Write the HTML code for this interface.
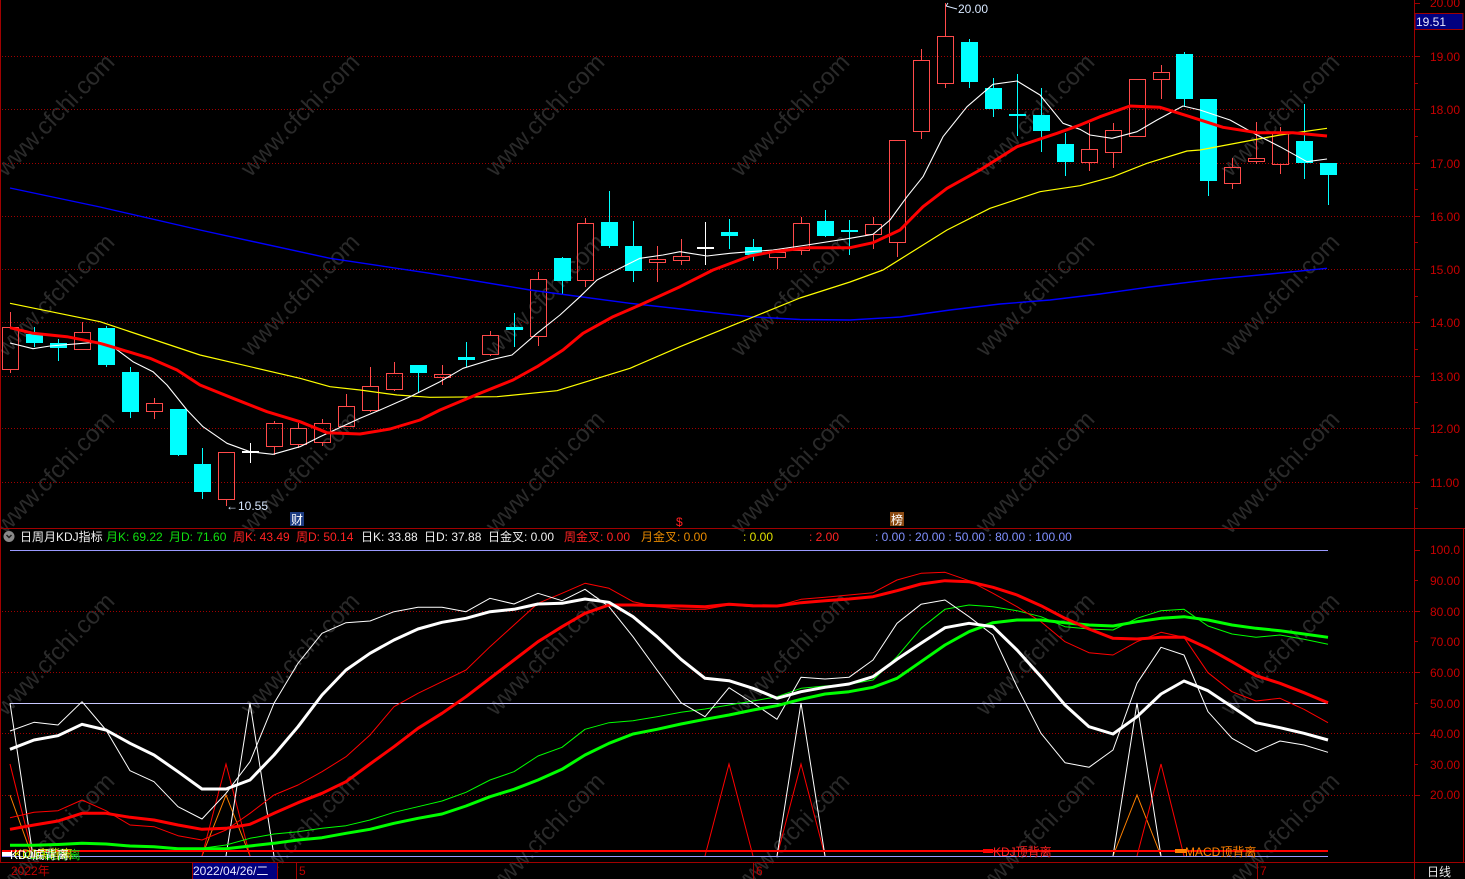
<!DOCTYPE html>
<html><head><meta charset="utf-8"><style>
html,body{margin:0;padding:0;background:#000;}
svg{display:block;font-family:"Liberation Sans","Noto Sans CJK SC",sans-serif;}
</style></head><body>
<svg width="1465" height="879" viewBox="0 0 1465 879" xmlns="http://www.w3.org/2000/svg">
<rect width="1465" height="879" fill="#000"/>
<!-- watermarks -->
<g fill="#2a2a2a" font-size="24" text-anchor="middle">
<text transform="translate(55,115) rotate(-46)" dy="8">www.cfchi.com</text>
<text transform="translate(300,115) rotate(-46)" dy="8">www.cfchi.com</text>
<text transform="translate(545,115) rotate(-46)" dy="8">www.cfchi.com</text>
<text transform="translate(790,115) rotate(-46)" dy="8">www.cfchi.com</text>
<text transform="translate(1035,115) rotate(-46)" dy="8">www.cfchi.com</text>
<text transform="translate(1280,115) rotate(-46)" dy="8">www.cfchi.com</text>
<text transform="translate(55,295) rotate(-46)" dy="8">www.cfchi.com</text>
<text transform="translate(300,295) rotate(-46)" dy="8">www.cfchi.com</text>
<text transform="translate(545,295) rotate(-46)" dy="8">www.cfchi.com</text>
<text transform="translate(790,295) rotate(-46)" dy="8">www.cfchi.com</text>
<text transform="translate(1035,295) rotate(-46)" dy="8">www.cfchi.com</text>
<text transform="translate(1280,295) rotate(-46)" dy="8">www.cfchi.com</text>
<text transform="translate(55,472) rotate(-46)" dy="8">www.cfchi.com</text>
<text transform="translate(300,472) rotate(-46)" dy="8">www.cfchi.com</text>
<text transform="translate(545,472) rotate(-46)" dy="8">www.cfchi.com</text>
<text transform="translate(790,472) rotate(-46)" dy="8">www.cfchi.com</text>
<text transform="translate(1035,472) rotate(-46)" dy="8">www.cfchi.com</text>
<text transform="translate(1280,472) rotate(-46)" dy="8">www.cfchi.com</text>
<text transform="translate(55,654) rotate(-46)" dy="8">www.cfchi.com</text>
<text transform="translate(300,654) rotate(-46)" dy="8">www.cfchi.com</text>
<text transform="translate(545,654) rotate(-46)" dy="8">www.cfchi.com</text>
<text transform="translate(790,654) rotate(-46)" dy="8">www.cfchi.com</text>
<text transform="translate(1035,654) rotate(-46)" dy="8">www.cfchi.com</text>
<text transform="translate(1280,654) rotate(-46)" dy="8">www.cfchi.com</text>
<text transform="translate(55,834) rotate(-46)" dy="8">www.cfchi.com</text>
<text transform="translate(300,834) rotate(-46)" dy="8">www.cfchi.com</text>
<text transform="translate(545,834) rotate(-46)" dy="8">www.cfchi.com</text>
<text transform="translate(790,834) rotate(-46)" dy="8">www.cfchi.com</text>
<text transform="translate(1035,834) rotate(-46)" dy="8">www.cfchi.com</text>
<text transform="translate(1280,834) rotate(-46)" dy="8">www.cfchi.com</text>
</g>

<!-- grid dotted -->
<g stroke="#a00000" stroke-width="1" stroke-dasharray="1 2">
<line x1="2" y1="56.5" x2="1413" y2="56.5"/>
<line x1="2" y1="109.5" x2="1413" y2="109.5"/>
<line x1="2" y1="163.5" x2="1413" y2="163.5"/>
<line x1="2" y1="216.5" x2="1413" y2="216.5"/>
<line x1="2" y1="269.5" x2="1413" y2="269.5"/>
<line x1="2" y1="322.5" x2="1413" y2="322.5"/>
<line x1="2" y1="376.5" x2="1413" y2="376.5"/>
<line x1="2" y1="428.5" x2="1413" y2="428.5"/>
<line x1="2" y1="482.5" x2="1413" y2="482.5"/>
<line x1="2" y1="611.5" x2="1413" y2="611.5"/>
<line x1="2" y1="672.5" x2="1413" y2="672.5"/>
<line x1="2" y1="733.5" x2="1413" y2="733.5"/>
<line x1="2" y1="795.5" x2="1413" y2="795.5"/>
</g>

<!-- candles: red hollow -->
<g stroke="#ff4a4a" stroke-width="1" fill="none">
<path d="M10.5 312V327M10.5 369V373M82.5 322V332M226.5 506V499M274.5 421V423M274.5 446V455M298.5 423V428M298.5 444V448M322.5 419V423M322.5 442V446M346.5 394V406M370.5 367V386M370.5 410V412M394.5 362V373M394.5 389V391M442.5 365V374M442.5 377V385M490.5 331V335M490.5 354V356M538.5 272V279M538.5 336V346M585.5 218V223M585.5 280V287M657.5 246V259M657.5 262V282M681.5 239V256M681.5 260V265M777.5 250V252M777.5 257V269M801.5 217V223M801.5 250V255M873.5 217V224M873.5 234V249M897.5 242V257M921.5 49V60M921.5 131V139M945.5 3V36M945.5 83V88M1089.5 123V149M1089.5 162V171M1113.5 123V130M1113.5 152V168M1161.5 65V72M1161.5 79V99M1232.5 158V167M1232.5 183V189M1256.5 122V158M1256.5 161V164M1280.5 127V133M1280.5 164V174"/>
<rect x="2.5" y="327.5" width="16" height="42"/>
<rect x="74.5" y="332.5" width="16" height="17"/>
<rect x="146.5" y="403.5" width="16" height="8"/>
<path d="M154.5 398V403M154.5 411V419"/>
<rect x="218.5" y="452.5" width="16" height="47"/>
<rect x="266.5" y="423.5" width="16" height="23"/>
<rect x="290.5" y="428.5" width="16" height="16"/>
<rect x="314.5" y="423.5" width="16" height="19"/>
<rect x="338.5" y="406.5" width="16" height="20"/>
<rect x="362.5" y="386.5" width="16" height="24"/>
<rect x="386.5" y="373.5" width="16" height="16"/>
<rect x="434.5" y="374.5" width="16" height="3"/>
<rect x="482.5" y="335.5" width="16" height="19"/>
<rect x="530.5" y="279.5" width="16" height="57"/>
<rect x="577.5" y="223.5" width="16" height="57"/>
<rect x="649.5" y="259.5" width="16" height="3"/>
<rect x="673.5" y="256.5" width="16" height="4"/>
<rect x="769.5" y="252.5" width="16" height="5"/>
<rect x="793.5" y="223.5" width="16" height="27"/>
<rect x="865.5" y="224.5" width="16" height="10"/>
<rect x="889.5" y="140.5" width="16" height="102"/>
<rect x="913.5" y="60.5" width="16" height="71"/>
<rect x="937.5" y="36.5" width="16" height="47"/>
<rect x="1081.5" y="149.5" width="16" height="13"/>
<rect x="1105.5" y="130.5" width="16" height="22"/>
<rect x="1129.5" y="79.5" width="16" height="57"/>
<rect x="1153.5" y="72.5" width="16" height="7"/>
<rect x="1224.5" y="167.5" width="16" height="16"/>
<rect x="1248.5" y="158.5" width="16" height="3"/>
<rect x="1272.5" y="133.5" width="16" height="31"/>
</g>
<!-- candles: cyan -->
<g stroke="#00ffff" stroke-width="1">
<path d="M34.5 327V347M58.5 339V361M106.5 326V367M130.5 367V418M178.5 409V456M202.5 448V499M418.5 365V392M466.5 342V367M514.5 313V347M562.5 257V295M609.5 191V248M633.5 221V282M729.5 219V249M753.5 239V261M825.5 210V237M849.5 220V255M969.5 39V88M993.5 78V117M1017.5 74V136M1041.5 88V152M1065.5 133V176M1184.5 52V106M1208.5 99V196M1304.5 104V179M1328.5 163V205"/>
</g>
<g fill="#00ffff">
<rect x="26" y="334" width="17" height="9"/>
<rect x="50" y="343" width="17" height="5"/>
<rect x="98" y="328" width="17" height="37"/>
<rect x="122" y="372" width="17" height="40"/>
<rect x="170" y="409" width="17" height="46"/>
<rect x="194" y="464" width="17" height="28"/>
<rect x="410" y="365" width="17" height="8"/>
<rect x="458" y="357" width="17" height="3"/>
<rect x="506" y="327" width="17" height="3"/>
<rect x="554" y="258" width="17" height="23"/>
<rect x="601" y="222" width="17" height="24"/>
<rect x="625" y="246" width="17" height="25"/>
<rect x="721" y="232" width="17" height="4"/>
<rect x="745" y="247" width="17" height="8"/>
<rect x="817" y="221" width="17" height="15"/>
<rect x="841" y="230" width="17" height="2"/>
<rect x="961" y="42" width="17" height="40"/>
<rect x="985" y="88" width="17" height="21"/>
<rect x="1009" y="114" width="17" height="2"/>
<rect x="1033" y="115" width="17" height="16"/>
<rect x="1057" y="144" width="17" height="18"/>
<rect x="1176" y="54" width="17" height="45"/>
<rect x="1200" y="99" width="17" height="82"/>
<rect x="1296" y="141" width="17" height="22"/>
<rect x="1320" y="163" width="17" height="12"/>
</g>
<!-- doji white -->
<g stroke="#ffffff" stroke-width="1">
<path d="M250.5 443V463M705.5 222V265"/>
</g>
<g fill="#ffffff">
<rect x="242" y="451" width="17" height="2"/>
<rect x="697" y="247" width="17" height="2"/>
</g>

<!-- moving averages -->
<g fill="none" stroke-linejoin="round">
<polyline stroke="#0000ff" stroke-width="1.4" points="10,188 100,207 200,230 330,258.3 430,273.3 530,290 630,303.3 750,316.7 800,319.5 850,320 900,317 950,310 1000,304 1050,300 1100,294 1150,287 1213,279.3 1270,274 1327,268.3"/>
<polyline stroke="#ffff00" stroke-width="1.2" points="10,303.3 100,321.7 200,355 300,378.3 330,386.7 360,390 397,395 430,397.3 497,396.7 557,390.7 630,368.3 680,346.7 750,318.3 800,298 850,282 883,270 947,230 990,208.3 1040,191.7 1080,185.7 1113,176.7 1147,163.3 1187,151 1200,150 1253,140 1280,135 1327,128.3"/>
<polyline stroke="#ffffff" stroke-width="1.1" points="10,343 33,348.7 50,346 83,343.3 100,342 115,348.3 133,361.7 153,371.7 167,385 187,410 203,426.7 227,443.3 250,451.7 273,454.3 300,446.7 320,436.7 360,418.3 380,410 410,396.7 440,381.7 463,368.3 490,360 512,355 537,333.3 560,315 580,296.7 597,280 620,268.3 640,258.3 663,255 680,251.7 707,256 730,253.3 750,251.7 773,250 807,245 850,238.3 873,234.3 890,220 907,196.7 923,176.7 943,136.7 967,106.7 993,84.3 1017,81 1040,95 1063,123.3 1080,129.3 1090,135 1112,138.3 1137,131.7 1157,120 1183,106 1200,110 1230,120 1257,135 1280,146.7 1307,161.7 1327,159"/>
<polyline stroke="#ff0000" stroke-width="3" points="10,327.7 33,333.3 67,336.7 100,343.3 117,348.3 150,358.3 177,370 200,385 233,398.3 267,411.7 300,421.7 327,432.7 360,434 390,429 420,420 440,410 480,393.3 513,380 537,366.7 563,350 583,333.3 613,316.7 640,305 680,286.7 713,270 750,256 773,251.7 807,247.7 850,247.7 873,242.7 900,230 923,206.7 947,188.3 980,170 1017,146.7 1057,133.3 1080,125 1100,116.7 1130,106 1160,107.3 1190,116.7 1223,127.3 1257,132.7 1293,132.7 1327,136"/>
</g>

<!-- extreme labels -->
<g fill="#d8e8ff" font-size="12">
<path d="M946 6 L948 3 M946 6 L957 9" stroke="#d8e8ff" stroke-width="1" fill="none"/>
<text x="958" y="13">20.00</text>
<text x="226" y="510">←10.55</text>
</g>

<!-- markers -->
<rect x="290" y="512" width="14" height="14" fill="#1c3c82"/>
<text x="291" y="524" font-size="12" fill="#ffffff">财</text>
<text x="676" y="526" font-size="12" fill="#ff2020">$</text>
<rect x="890" y="512" width="14" height="14" fill="#8b4a12"/>
<text x="891" y="524" font-size="12" fill="#ffffff">榜</text>

<!-- panel separators -->
<g stroke="#a00000" stroke-width="1">
<line x1="0" y1="528.5" x2="1465" y2="528.5"/>
<line x1="0" y1="862.5" x2="1465" y2="862.5"/>
<line x1="1414.5" y1="0" x2="1414.5" y2="879"/>
<line x1="1463.5" y1="528" x2="1463.5" y2="862"/>
<line x1="0.5" y1="0" x2="0.5" y2="862"/>
</g>

<!-- price axis ticks -->
<g stroke="#a00000" stroke-width="1">
<path d="M1415 3.5H1420M1415 56.5H1420M1415 109.5H1420M1415 163.5H1420M1415 216.5H1420M1415 269.5H1420M1415 322.5H1420M1415 376.5H1420M1415 428.5H1420M1415 482.5H1420"/>
<path d="M1415 29.5H1418M1415 83.5H1418M1415 136.5H1418M1415 189.5H1418M1415 242.5H1418M1415 296.5H1418M1415 349.5H1418M1415 402.5H1418M1415 455.5H1418M1415 508.5H1418"/>
<path d="M1415 550.5H1420M1415 611.5H1420M1415 672.5H1420M1415 733.5H1420M1415 795.5H1420"/>
<path d="M1415 580.5H1418M1415 641.5H1418M1415 703.5H1418M1415 764.5H1418"/>
</g>
<g fill="#c80000" font-size="12">
<text x="1430" y="7">20.00</text>
<text x="1430" y="61">19.00</text>
<text x="1430" y="114">18.00</text>
<text x="1430" y="168">17.00</text>
<text x="1430" y="221">16.00</text>
<text x="1430" y="274">15.00</text>
<text x="1430" y="327">14.00</text>
<text x="1430" y="381">13.00</text>
<text x="1430" y="433">12.00</text>
<text x="1430" y="487">11.00</text>
<text x="1430" y="554">100.0</text>
<text x="1430" y="585">90.00</text>
<text x="1430" y="616">80.00</text>
<text x="1430" y="646">70.00</text>
<text x="1430" y="677">60.00</text>
<text x="1430" y="708">50.00</text>
<text x="1430" y="738">40.00</text>
<text x="1430" y="769">30.00</text>
<text x="1430" y="799">20.00</text>
</g>
<rect x="1415" y="13.5" width="48" height="16" fill="#000080" stroke="#a00000" stroke-width="1"/>
<text x="1416" y="26" font-size="12" fill="#e8e8ff">19.51</text>

<!-- indicator header -->
<circle cx="9" cy="536.5" r="5.5" fill="#8a8a8a"/>
<path d="M6.5 535 L9 537.5 L11.5 535" stroke="#202020" stroke-width="1.5" fill="none"/>
<g font-size="12">
<text x="20" y="541" fill="#f0f0f0">日周月KDJ指标</text>
<text x="106" y="541" fill="#10e010">月K: 69.22</text>
<text x="169" y="541" fill="#10e010">月D: 71.60</text>
<text x="233" y="541" fill="#ff2222">周K: 43.49</text>
<text x="296" y="541" fill="#ff2222">周D: 50.14</text>
<text x="361" y="541" fill="#f0f0f0">日K: 33.88</text>
<text x="424" y="541" fill="#f0f0f0">日D: 37.88</text>
<text x="488" y="541" fill="#f0f0f0">日金叉: 0.00</text>
<text x="564" y="541" fill="#ff2222">周金叉: 0.00</text>
<text x="641" y="541" fill="#e88a00">月金叉: 0.00</text>
<text x="743" y="541" fill="#e0e000">: 0.00</text>
<text x="809" y="541" fill="#ff2222">: 2.00</text>
<text x="875" y="541" fill="#8090ff">: 0.00 : 20.00 : 50.00 : 80.00 : 100.00</text>
</g>

<!-- indicator reference lines -->
<line x1="10" y1="550.5" x2="1328" y2="550.5" stroke="#9a9aff" stroke-width="1"/>
<line x1="10" y1="703.5" x2="1328" y2="703.5" stroke="#c8c8ff" stroke-width="1"/>

<!-- spikes -->
<g fill="none" stroke-width="1">
<polyline stroke="#ff8000" points="10,795 32,856"/>
<polyline stroke="#ff8000" points="202,856 226,795 250,856"/>
<polyline stroke="#ff8000" points="1113,856 1137,795 1161,856"/>
<polyline stroke="#ff0000" points="10,764 33,856"/>
<polyline stroke="#ff0000" points="202,856 226,764 250,856"/>
<polyline stroke="#ff0000" points="705,856 729,764 753,856"/>
<polyline stroke="#ff0000" points="777,856 801,764 825,856"/>
<polyline stroke="#ff0000" points="1137,856 1161,764 1184,856"/>
<polyline stroke="#ffffff" points="10,703 33,856"/>
<polyline stroke="#ffffff" points="226,856 250,703 274,856"/>
<polyline stroke="#ffffff" points="777,856 801,703 825,856"/>
<polyline stroke="#ffffff" points="1113,856 1137,703 1161,856"/>
</g>

<!-- KDJ lines -->
<g fill="none" stroke-linejoin="round">
<polyline stroke="#00ff00" stroke-width="1" points="10,846 34,845.5 58,844.5 82,843.3 106,844 130,845.7 154,846.5 178,848.7 202,848.3 226,845 250,838.3 274,834 298,831.7 322,828.3 346,825.7 370,820 394,812.3 418,806.7 442,801 466,792.3 490,780 514,771.7 538,756 562,747.3 585,729.3 609,722.7 633,720.7 657,716.7 681,712.3 705,709 729,705 753,701 777,696.7 801,688.3 825,686 849,684.3 873,680 897,656.7 921,628.3 945,609.3 969,605 993,606.7 1017,610.7 1041,616.7 1065,626.7 1089,629 1113,630 1137,618.3 1161,610.7 1184,609.3 1208,626 1232,634 1256,637.3 1280,635 1304,639.3 1328,644.3"/>
<polyline stroke="#ff0000" stroke-width="1" points="10,817.7 34,812.3 58,810.7 82,800 106,810.7 130,825 154,826.7 178,835.7 202,840 226,830 250,813.3 274,795 298,785 322,771.7 346,756.7 370,735 394,706.7 418,693.3 442,681.7 466,670 490,646.7 514,625 538,603.3 562,593.3 585,583.3 609,588.3 633,601.7 657,606.7 681,609.3 705,609.3 729,605 753,606.7 777,606 801,599.3 825,597.3 849,595 873,592.7 897,580 921,573.3 945,572.3 969,580.7 993,593.3 1017,606.7 1041,621.7 1065,641.7 1089,652.7 1113,655 1137,641.7 1161,632.3 1184,637.3 1208,672.7 1232,691.7 1256,701 1280,698.3 1304,709.3 1328,722.7"/>
<polyline stroke="#ffffff" stroke-width="1" points="10,731 34,722.3 58,725 82,701.7 106,730 130,770.7 154,781.7 178,806.7 202,819 226,793.3 250,761.7 274,703.3 298,663.3 322,633.3 346,622.7 370,621 394,611.7 418,607.3 442,607.3 466,611.7 490,598.3 514,604 538,593.3 562,600.7 585,589.3 609,606.7 633,636.7 657,670 681,702.7 705,716.7 729,687.7 753,703 777,719.3 801,677.3 825,679 849,677.3 873,660 897,623.3 921,604.3 945,600 969,616.7 993,635 1017,686.7 1041,733.3 1065,762.7 1089,767.3 1113,750 1137,683.3 1161,647.3 1184,655 1208,711.7 1232,738.3 1256,751.7 1280,741 1304,745 1328,752.3"/>
<polyline stroke="#00ff00" stroke-width="3" points="10,845.3 34,845.3 58,844.5 82,843.3 106,844 130,846 154,846.7 178,848.7 202,848.7 226,848.7 250,846 274,843.3 298,840 322,837.7 346,833.3 370,829.3 394,823.3 418,818.3 442,814 466,806 490,796.7 514,789.3 538,780 562,769.3 585,755 609,743.3 633,734 657,729.3 681,724 705,719.3 729,715 753,710 777,705.7 801,699.3 825,694 849,691.7 873,687.3 897,678.3 921,661.7 945,645 969,631.7 993,622.7 1017,620 1041,620 1065,622.7 1089,625 1113,626 1137,621.7 1161,618.3 1184,616.7 1208,620 1232,625 1256,628.3 1280,630.7 1304,634 1328,637.3"/>
<polyline stroke="#ff0000" stroke-width="3" points="10,829.3 34,825 58,821 82,813.3 106,813.3 130,817.3 154,820 178,825 202,829.3 226,828.3 250,824.3 274,813.3 298,802.7 322,793.3 346,781.7 370,764 394,746.7 418,728.3 442,713.3 466,696.7 490,678.3 514,660 538,641.7 562,626.7 585,613.3 609,605 633,605 657,605.7 681,606 705,606.7 729,604.3 753,605.7 777,606 801,602.7 825,600.7 849,599 873,596.7 897,590.7 921,584 945,580.7 969,581.7 993,587.3 1017,595 1041,605.7 1065,618.3 1089,629 1113,638.3 1137,639 1161,637.3 1184,637.3 1208,648.3 1232,661.7 1256,675.7 1280,683.3 1304,692.7 1328,702.7"/>
<polyline stroke="#ffffff" stroke-width="3" points="10,749.3 34,740 58,735.7 82,724.3 106,730 130,743.3 154,755 178,771.7 202,789 226,789 250,780 274,755 298,726.7 322,695 346,670 370,653.3 394,640 418,629 442,622.3 466,618.3 490,611.7 514,609.3 538,604 562,603.3 585,599 609,602.3 633,616.7 657,636.7 681,659.3 705,678.3 729,680.7 753,688.3 777,698.3 801,691.7 825,687.3 849,684 873,676.7 897,659.3 921,643.3 945,627.7 969,623.3 993,626.7 1017,650 1041,676.7 1065,705 1089,726.7 1113,734 1137,716.7 1161,694 1184,681 1208,690.7 1232,706.7 1256,722.7 1280,727.7 1304,733.3 1328,740"/>
</g>

<!-- bottom lines -->
<line x1="2" y1="851" x2="1328" y2="851" stroke="#ff0000" stroke-width="2"/>
<line x1="2" y1="856.5" x2="1328" y2="856.5" stroke="#9a9aff" stroke-width="1"/>

<!-- divergence labels -->
<rect x="2" y="852" width="10" height="4" fill="#ffffff"/>
<g font-size="12">
<text x="22" y="859" fill="#10e010">KDJ底背离</text>
<text x="14" y="858" fill="#e0e000">KDJ底背离</text>
<text x="10" y="859" fill="#ffffff">KDJ底背离</text>
<rect x="983" y="849" width="10" height="4" fill="#ff0000"/>
<text x="993" y="856" fill="#ff2020">KDJ顶背离</text>
<rect x="1175" y="849" width="11" height="4" fill="#ff8000"/>
<text x="1185" y="856" fill="#ff8000">MACD顶背离</text>
</g>

<!-- time axis -->
<g font-size="12">
<text x="11" y="875" fill="#c00000">2022年</text>
<rect x="192" y="863" width="85" height="16" fill="#000080"/>
<text x="193" y="875" fill="#e8e8ff">2022/04/26/二</text>
<text x="299" y="875" fill="#c00000">5</text>
<text x="756" y="875" fill="#c00000">6</text>
<text x="1260" y="875" fill="#c00000">7</text>
<text x="1427" y="876" fill="#e8e8e8">日线</text>
</g>
<g stroke="#a00000" stroke-width="1">
<line x1="192.5" y1="863" x2="192.5" y2="879"/>
<line x1="277.5" y1="863" x2="277.5" y2="879"/>
<line x1="296.5" y1="863" x2="296.5" y2="879"/>
<line x1="753.5" y1="863" x2="753.5" y2="879"/>
<line x1="1257.5" y1="863" x2="1257.5" y2="879"/>
</g>
</svg>
</body></html>
